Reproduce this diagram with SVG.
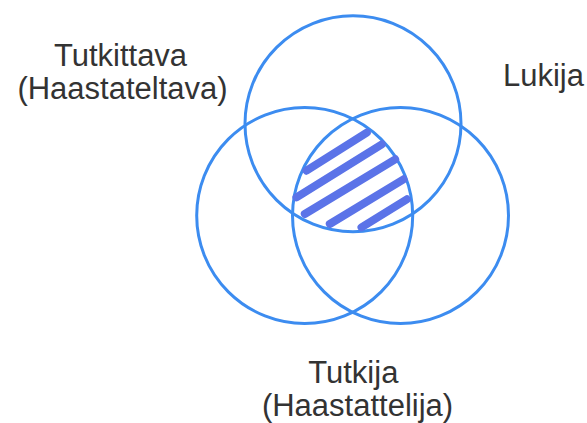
<svg xmlns="http://www.w3.org/2000/svg" width="587" height="423" viewBox="0 0 587 423">
<style>
.ring{fill:none;stroke:#3c8cf0;stroke-width:3}
.lbl{font-family:"Liberation Sans",Arial,sans-serif;font-size:31px;fill:#333333;text-anchor:middle}
.hatch{stroke:#5b73e8;stroke-width:8;stroke-linecap:round;fill:none}
</style>
<rect width="587" height="423" fill="#ffffff"/>
<g id="tutkittava">
<circle class="ring" cx="304.7" cy="215.5" r="108"/>
<text class="lbl" x="120.5" y="65.5">Tutkittava</text>
<text class="lbl" x="122.5" y="98.5">(Haastateltava)</text>
</g>
<g id="lukija">
<circle class="ring" cx="353" cy="123.7" r="108"/>
<text class="lbl" x="543.5" y="86">Lukija</text>
</g>
<g id="tutkija">
<circle class="ring" cx="400.5" cy="215.5" r="108"/>
<text class="lbl" x="353.3" y="382.5">Tutkija</text>
<text class="lbl" x="357.5" y="415.5">(Haastattelija)</text>
</g>
<g id="intersection" class="hatch">
<line x1="306.5" y1="170.7" x2="366.8" y2="132.7"/>
<line x1="296.5" y1="197.3" x2="381.8" y2="144.3"/>
<line x1="304.8" y1="214" x2="395.2" y2="159.3"/>
<line x1="329.8" y1="224" x2="403.5" y2="179.3"/>
<line x1="361.5" y1="227.3" x2="406.8" y2="199.3"/>
</g>
<g id="connectors"/>
</svg>
